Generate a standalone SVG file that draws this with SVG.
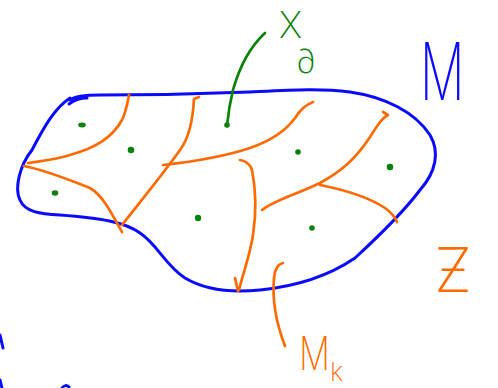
<svg xmlns="http://www.w3.org/2000/svg" width="498" height="388" viewBox="0 0 498 388">
<style>
.b{fill:none;stroke:#0a0aff;stroke-width:3;stroke-linecap:round;stroke-linejoin:round}
.o{fill:none;stroke:#ff6a00;stroke-width:2.7;stroke-linecap:round;stroke-linejoin:round}
.g{fill:none;stroke:#0a820a;stroke-width:2.7;stroke-linecap:round}
.d{fill:#0a820a}
.t{font-family:Inter,"Open Sans","DejaVu Sans",sans-serif;font-weight:250}
</style>
<rect width="498" height="388" fill="#fff"/>
<g id="boundary">
<path class="b" d="M 70,100 C 75,96 85,95 100,95 C 150,95 200,94 250,92 C 290,90 320,88 350,92 C 385,97 415,112 430,135 C 440,152 436,172 420,190 C 405,210 380,235 355,258 C 330,275 300,286 260,290 C 230,293 205,290 185,278 C 165,265 158,245 140,233 C 125,222 100,218 60,215 C 40,214 25,212 20,200 C 14,188 20,165 32,150 C 45,125 55,108 70,98"/>
<path class="b" d="M 69,104 C 74,100 80,98 87,98"/>
<path class="b" d="M 0,335 L 3,348"/>
<path class="b" d="M 0,380 L 2,388"/>
<path class="b" d="M 62,388 C 64,385 67,385 69,387"/>
</g>
<g id="partition">
<path class="o" d="M 129,95 C 127,105 126,112 122,120 C 112,138 95,148 70,155 C 55,160 40,161 28,163"/>
<path class="o" d="M 24,166 C 45,170 70,180 90,188 C 102,195 110,210 122,232"/>
<path class="o" d="M 199,97 L 194,99 C 193,118 189,138 180,150 C 166,170 148,192 122,225"/>
<path class="o" d="M 163,165 C 190,162 220,158 250,148 C 270,141 285,132 295,118 C 300,110 305,105 313,102"/>
<path class="o" d="M 240,160 C 246,161 250,164 252,170 C 256,190 256,215 253,235 C 250,255 244,270 239,290 M 235,278 L 238,291"/>
<path class="o" d="M 262,210 C 275,200 295,195 320,183 C 340,172 355,160 370,137 C 377,126 382,118 388,115 L 383,112"/>
<path class="o" d="M 320,185 C 345,190 370,198 385,208 C 392,213 395,217 397,222"/>
<path class="o" d="M 283,263 C 278,264 275,268 274,278 C 272,300 275,320 285,346"/>
</g>
<g id="points">
<path class="g" d="M 265,33 C 252,45 240,65 233,90 C 230,102 228,115 227,126"/>
<circle class="d" cx="227" cy="125" r="2.8"/>
<ellipse class="d" cx="82" cy="125" rx="3.8" ry="2.4"/>
<circle class="d" cx="131" cy="150" r="3.3"/>
<ellipse class="d" cx="55" cy="193" rx="3.3" ry="2.8"/>
<circle class="d" cx="198" cy="218" r="3.2"/>
<circle class="d" cx="298" cy="152" r="2.8"/>
<circle class="d" cx="390" cy="167" r="3.3"/>
<circle class="d" cx="312" cy="228" r="2.8"/>
</g>
<g id="labels">
<text class="t" x="279" y="38" font-size="36" fill="#0a820a">X</text>
<text class="t" x="296" y="73" font-size="33" fill="#0a820a">∂</text>
<text class="t" transform="translate(420,100) scale(0.62,1)" font-size="80" fill="#0a0aff">M</text>
<text class="t" x="434" y="292" font-size="62" fill="#ff6a00">Ƶ</text>
<text class="t" transform="translate(299,370) scale(0.75,1)" font-size="46" fill="#ff6a00">M</text>
<text class="t" x="330" y="381" font-size="26" fill="#ff6a00">k</text>
</g>
</svg>
